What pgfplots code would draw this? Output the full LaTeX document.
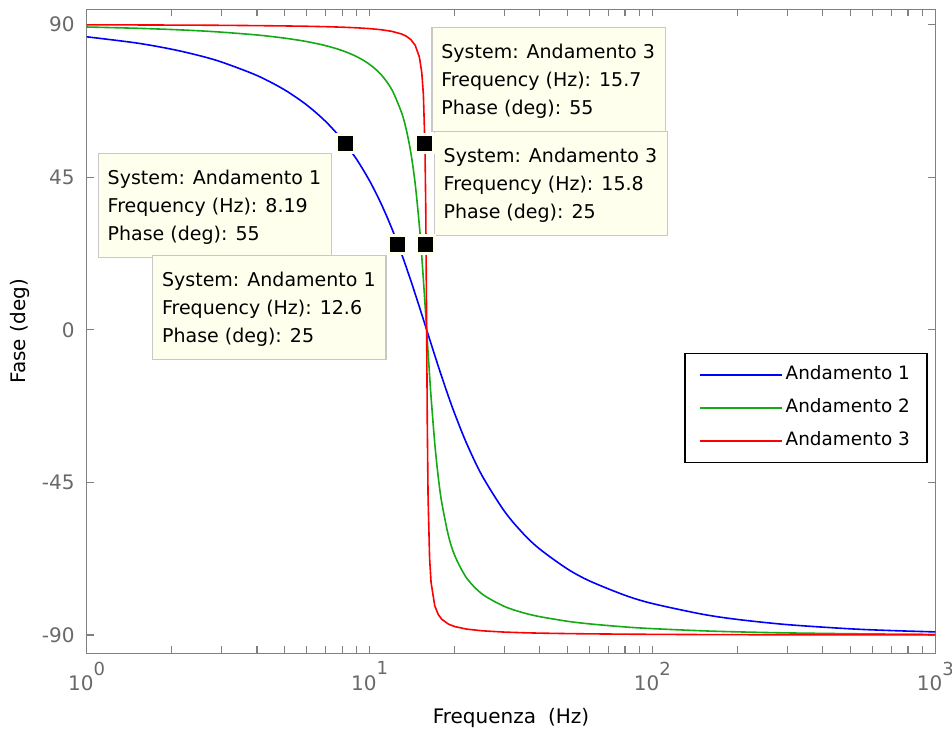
\documentclass[border=0pt]{standalone}
\usepackage{fontspec}
\setmainfont{DejaVu Sans}
\usepackage{pgfplots}
\pgfplotsset{compat=1.18}
\definecolor{tipbg}{RGB}{255,255,238}
\definecolor{tipedge}{RGB}{200,200,200}
\definecolor{axgray}{RGB}{128,128,128}
\definecolor{labgray}{RGB}{105,105,105}
\definecolor{mblue}{RGB}{0,0,255}
\definecolor{mgreen}{RGB}{20,170,20}
\definecolor{mred}{RGB}{255,0,0}
\newcommand{\tenpow}[1]{10\raisebox{7.9pt}{\fontsize{9}{9}\selectfont #1}}
\newcommand{\tipfont}{\fontsize{9.5}{11}\selectfont}
\newcommand{\tipbox}[5]{%
  \draw[tipedge, fill=tipbg, line width=0.75pt] (#1,#2) rectangle ++(116.7pt,-52pt);
  \node[anchor=base west, inner sep=0pt, font=\tipfont, xshift=4.5pt, yshift=-15.5pt] at (#1,#2) {System: Andamento #3};
  \node[anchor=base west, inner sep=0pt, font=\tipfont, xshift=4.5pt, yshift=-29.5pt] at (#1,#2) {Frequency (Hz): #4};
  \node[anchor=base west, inner sep=0pt, font=\tipfont, xshift=4.5pt, yshift=-43.5pt] at (#1,#2) {Phase (deg): #5};
}
\begin{document}
\begin{tikzpicture}
\useasboundingbox (-43.35pt,-38.85pt) rectangle (432.65pt,326.65pt);
\tipbox{5.8pt}{250pt}{1}{8.19}{55}
\tipbox{33pt}{198.8pt}{1}{12.6}{25}
\tipbox{172.65pt}{313pt}{3}{15.7}{55}
\tipbox{173.8pt}{261pt}{3}{15.8}{25}
\begin{axis}[
  at={(0pt,0pt)}, anchor=south west,
  scale only axis, width=424.3pt, height=322pt,
  xmode=log, xmin=1, xmax=1000, ymin=-95.4, ymax=94.5,
  xtick={1,10,100,1000},
  xticklabels={{\tenpow{0}},{\tenpow{1}},{\tenpow{2}},{\tenpow{3}}},
  ytick={-90,-45,0,45,90},
  yticklabels={-90,-45,0,45,90},
  tick align=inside,
  major tick length=3.5pt, minor tick length=3.5pt,
  axis line style={axgray, line width=0.7pt},
  tick style={axgray, line width=0.6pt},
  tick label style={font=\fontsize{10}{12}\selectfont, text=labgray},
  yticklabel style={xshift=-2.5pt},
  xticklabel style={yshift=-0.7pt},
  xlabel={Frequenza\hspace{0.6em}(Hz)},
  ylabel={Fase (deg)},
  label style={font=\fontsize{10}{12}\selectfont},
  xlabel style={at={(axis description cs:0.5,-0.1005)}, anchor=center},
  ylabel style={at={(axis description cs:-0.0785,0.5)}, anchor=center},
  legend style={at={(axis description cs:0.991,0.4668)}, anchor=north east,
    draw=black, line width=0.8pt, fill=white,
    font=\fontsize{9.2}{11}\selectfont,
    inner xsep=7pt, inner ysep=2.5pt, row sep=0pt,
    nodes={inner xsep=1.5pt, inner ysep=3.9pt, text height=6.8pt, text depth=1.9pt}},
  legend cell align=left,
  legend image code/.code={\draw[#1, line width=0.75pt] (0pt,0pt) -- (41pt,0pt);},
]
\addplot[mblue, line width=0.8pt, smooth] coordinates {
(1,86.39) (1.5,84.57) (2,82.72) (2.5,80.85) (3,78.94) (4,74.98) (5,70.78) (6,66.27)
(7,61.40) (8,56.07) (9,50.26) (10,43.93) (11,37.08) (12,29.78) (13,22.17) (13.5,18.30)
(14,14.42) (14.5,10.56) (15,6.76) (15.3,4.51) (15.5,3.03) (15.7,1.56) (15.8,0.83)
(15.9,0.11) (16,-0.61) (16.1,-1.32) (16.3,-2.74) (16.5,-4.13) (17,-7.52) (17.5,-10.77)
(18,-13.87) (19,-19.61) (20,-24.75) (22,-33.38) (25,-43.05) (30,-53.56) (35,-60.18)
(40,-64.70) (50,-70.50) (60,-74.08) (80,-78.30) (100,-80.73) (150,-83.87) (200,-85.42)
(300,-86.95) (500,-88.18) (700,-88.70) (1000,-89.09)};
\addlegendentry{Andamento 1}
\addplot[mgreen, line width=0.8pt, smooth] coordinates {
(1,89.28) (1.5,88.91) (2,88.54) (2.5,88.16) (3,87.76) (4,86.93) (5,86.01) (6,84.98)
(7,83.78) (8,82.34) (9,80.56) (10,78.27) (11,75.18) (12,70.74) (13,63.85) (13.5,58.83)
(14,52.12) (14.5,43.00) (15,30.65) (15.3,21.51) (15.5,14.80) (15.7,7.75) (15.8,4.15)
(15.9,0.54) (16,-3.05) (16.1,-6.59) (16.3,-13.44) (16.5,-19.85) (17,-33.42) (17.5,-43.56)
(18,-50.98) (19,-60.69) (20,-66.54) (22,-73.12) (25,-77.92) (30,-81.60) (35,-83.46)
(40,-84.60) (50,-85.95) (60,-86.73) (80,-87.63) (100,-88.13) (150,-88.77) (200,-89.08)
(300,-89.39) (500,-89.63) (700,-89.74) (1000,-89.82)};
\addlegendentry{Andamento 2}
\addplot[mred, line width=0.8pt] coordinates {
(1,89.93) (1.5,89.89) (2,89.85) (2.5,89.82) (3,89.78) (4,89.69) (5,89.60) (6,89.50)
(7,89.38) (8,89.23) (9,89.05) (10,88.81) (11,88.48) (12,88.00) (13,87.19) (13.5,86.54)
(14,85.55) (14.5,83.88) (15,80.42) (15.3,75.76) (15.5,69.28) (15.7,53.69) (15.8,35.96)
(15.9,5.39) (16,-28.04) (16.1,-49.13) (16.3,-67.30) (16.5,-74.52) (17,-81.38) (17.5,-83.99)
(18,-85.37) (19,-86.79) (20,-87.52) (22,-88.26) (25,-88.77) (30,-89.15) (35,-89.34)
(40,-89.46) (50,-89.59) (60,-89.67) (80,-89.76) (100,-89.81) (150,-89.88) (200,-89.91)
(300,-89.94) (500,-89.96) (700,-89.97) (1000,-89.98)};
\addlegendentry{Andamento 3}
\addplot[only marks, mark=square*, mark size=4.5pt,
  mark options={fill=black, draw=tipbg, line width=1.5pt}, forget plot]
  coordinates {(8.19,55) (12.6,25) (15.7,55) (15.8,25)};
\end{axis}
\end{tikzpicture}
\end{document}
